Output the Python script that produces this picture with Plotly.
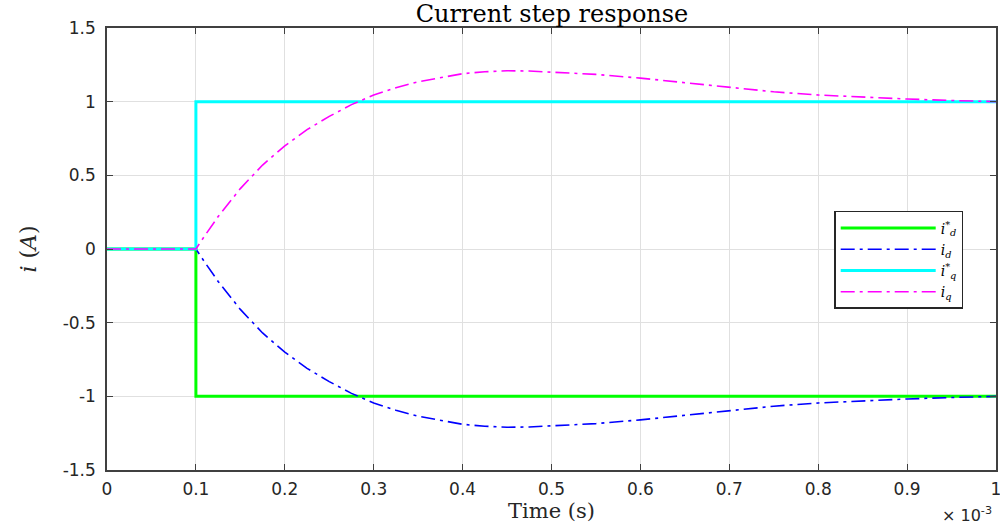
import plotly.graph_objects as go

# time in ms (axis shows x 10^-3 s)
t_ref = [0, 0.1, 1.0]
id_ref = [0, -1, -1]
iq_ref = [0, 1, 1]

t_resp = [0, 0.1, 0.11, 0.125, 0.15, 0.175, 0.2, 0.225, 0.25, 0.275, 0.3, 0.325, 0.35,
          0.375, 0.4, 0.425, 0.45, 0.475, 0.5, 0.55, 0.6, 0.65, 0.7, 0.75, 0.8, 0.85,
          0.9, 0.95, 1.0]
iq_resp = [0, 0, 0.09, 0.22, 0.41, 0.57, 0.70, 0.81, 0.90, 0.98, 1.045, 1.095, 1.135,
           1.165, 1.19, 1.203, 1.21, 1.208, 1.20, 1.185, 1.16, 1.128, 1.095, 1.067, 1.045, 1.03,
           1.018, 1.008, 1.0]
id_resp = [0, 0, -0.09, -0.22, -0.41, -0.57, -0.70, -0.81, -0.90, -0.98, -1.045, -1.095, -1.135,
           -1.165, -1.19, -1.203, -1.21, -1.208, -1.20, -1.185, -1.16, -1.128, -1.095, -1.067, -1.045, -1.03,
           -1.018, -1.008, -1.0]

x_ticks = [0, 0.1, 0.2, 0.3, 0.4, 0.5, 0.6, 0.7, 0.8, 0.9, 1.0]
x_labels = ["0", "0.1", "0.2", "0.3", "0.4", "0.5", "0.6", "0.7", "0.8", "0.9", "1"]
y_ticks = [-1.5, -1, -0.5, 0, 0.5, 1, 1.5]
y_labels = ["-1.5", "-1", "-0.5", "0", "0.5", "1", "1.5"]

dashdot = "14px,5px,3px,5px"

fig = go.Figure()
fig.add_trace(go.Scatter(x=t_ref, y=id_ref, mode="lines", line_shape="hv",
                         line=dict(color="#00ff00", width=3),
                         name="<i>i</i><sup>*</sup><sub><i>d</i></sub>"))
fig.add_trace(go.Scatter(x=t_resp, y=id_resp, mode="lines",
                         line=dict(color="#0000ff", width=1.6, dash=dashdot),
                         name="<i>i<sub>d</sub></i>"))
fig.add_trace(go.Scatter(x=t_ref, y=iq_ref, mode="lines", line_shape="hv",
                         line=dict(color="#00ffff", width=3),
                         name="<i>i</i><sup>*</sup><sub><i>q</i></sub>"))
fig.add_trace(go.Scatter(x=t_resp, y=iq_resp, mode="lines",
                         line=dict(color="#ff00ff", width=1.6, dash=dashdot),
                         name="<i>i<sub>q</sub></i>"))

axis_common = dict(showline=True, linecolor="#404040", linewidth=1.5, mirror="ticks",
                   ticks="inside", ticklen=6, tickcolor="#404040", automargin=False,
                   ticklabeloverflow="allow",
                   showgrid=True, gridcolor="#e0e0e0", gridwidth=1.2, zeroline=False,
                   tickfont=dict(family="DejaVu Sans", size=17, color="#262626"))

fig.update_xaxes(range=[0, 1.0], tickvals=x_ticks, ticktext=x_labels, ticklabelstandoff=3,
                 title=dict(text="Time (s)", font=dict(family="DejaVu Serif", size=21, color="#262626"),
                            standoff=2),
                 **axis_common)
fig.update_yaxes(range=[-1.5, 1.5], tickvals=y_ticks, ticktext=y_labels, ticklabelstandoff=6,
                 title=dict(text="<i>i</i> (<i>A</i>)", font=dict(family="DejaVu Serif", size=22, color="#262626"),
                            standoff=20),
                 **axis_common)

fig.update_layout(
    width=1000, height=529,
    margin=dict(l=107, r=4, t=28, b=59, autoexpand=False),
    paper_bgcolor="white", plot_bgcolor="white",
    title=dict(text="Current step response", x=0.552, xanchor="center", y=0.99, yanchor="top",
               font=dict(family="DejaVu Serif", size=24, color="black")),
    showlegend=True,
    legend=dict(x=0.818, y=0.586, xanchor="left", yanchor="top",
                bgcolor="white", bordercolor="#262626", borderwidth=1.5,
                font=dict(family="DejaVu Serif", size=14, color="black"),
                tracegroupgap=0, itemwidth=95),
    annotations=[dict(text="\u00d7 10<sup>-3</sup>", x=0.998, y=-0.072, xref="paper", yref="paper",
                      xanchor="right", yanchor="top", showarrow=False,
                      font=dict(family="DejaVu Sans", size=16, color="#262626"))]
)

fig.write_html("out.html", config={"displayModeBar": False},
               post_script="document.body.style.margin='0';")
